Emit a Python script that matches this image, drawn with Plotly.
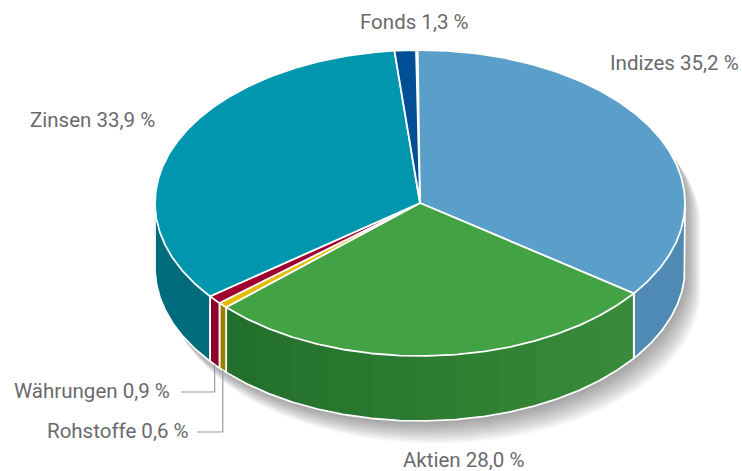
import numpy as np
import plotly.graph_objects as go

# Data, clockwise from the top of the pie
categories = ["Indizes", "Aktien", "Rohstoffe", "Währungen", "Zinsen", "Fonds"]
values = [35.2, 28.0, 0.6, 0.9, 33.9, 1.3]

# Styling
top_colors = ["#5A9FC9", "#43A243", "#E6BC00", "#A00030", "#0097AE", "#004F96"]
side_left = ["#4E8AB3", "#226F2B", "#9C7F00", "#8F002C", "#006C7C", "#004F96"]
side_right = ["#4E8AB3", "#3A8C3A", "#9C7F00", "#8F002C", "#006C7C", "#004F96"]
TEXT = "#6A6A6D"
LEADER = "#9A9A9A"
CX, CY, RX, RY, DEPTH = 420.0, 203.0, 265.0, 153.0, 65.0
START_ANGLE = -0.5
W, H = 742, 471


def px(t):
    return CX + RX * np.sin(np.radians(t))


def py(t, down=0.0):
    return CY - RY * np.cos(np.radians(t)) + down


def arc(a, b, step=0.5):
    n = max(2, int(abs(b - a) / step) + 1)
    return np.linspace(a, b, n)


def hex_rgb(h):
    return np.array([int(h[i:i + 2], 16) for i in (1, 3, 5)], float)


fig = go.Figure()


def poly(x, y, fill=None, line=None, width=0.0):
    fig.add_trace(go.Scatter(
        x=x, y=y, mode="lines", hoverinfo="skip", showlegend=False,
        fill="toself" if fill else "none", fillcolor=fill,
        line=dict(color=line or "rgba(0,0,0,0)", width=width),
    ))


# Soft drop shadow: stacked translucent copies of the body outline
outline_t = arc(90, 270)
back_t = arc(270, 450)
body_x = np.concatenate([px(outline_t), px(back_t)])
body_y = np.concatenate([py(outline_t, DEPTH), py(back_t)])
for k in range(15, 0, -1):
    poly(body_x + k * 1.05, body_y + k * 1.5, fill="rgba(40,40,40,0.03)")

# Slice boundaries in degrees
edges = np.concatenate([[0], np.cumsum(values)]) * 3.6 + START_ANGLE

# Side wall (only the front half of the pie, 90..270 degrees)
for i, cat in enumerate(categories):
    a, b = max(edges[i], 90), min(edges[i + 1], 270)
    if a >= b:
        continue
    same = side_left[i] == side_right[i]
    n = 1 if same else max(1, int((b - a) / 9))
    cuts = np.linspace(a, b, n + 1)
    for j in range(n):
        ts = arc(cuts[j], cuts[j + 1])
        lo, hi = px(b), px(a)
        f = (px(ts).mean() - min(lo, hi)) / max(1e-6, abs(hi - lo))
        c = hex_rgb(side_left[i]) + (hex_rgb(side_right[i]) - hex_rgb(side_left[i])) * f
        col = "rgb(%d,%d,%d)" % tuple(c)
        poly(np.concatenate([px(ts), px(ts[::-1])]),
             np.concatenate([py(ts), py(ts[::-1], DEPTH)]),
             fill=col, line=col, width=1.0)
    # white rim and wall boundaries
    ts = arc(a, b)
    poly(np.concatenate([[px(a)], px(ts), [px(b)]]),
         np.concatenate([[py(a)], py(ts, DEPTH), [py(b)]]),
         line="#FFFFFF", width=1.8)

# Top faces
for i, cat in enumerate(categories):
    ts = arc(edges[i], edges[i + 1])
    poly(np.concatenate([[CX], px(ts), [CX]]),
         np.concatenate([[CY], py(ts), [CY]]),
         fill=top_colors[i], line="#FFFFFF", width=1.8)

# Leader lines for the two thin slices, anchored on the slice midpoints
for name, elbow_y, end_x in [("Währungen", 392, 181), ("Rohstoffe", 432, 197)]:
    i = categories.index(name)
    m = (edges[i] + edges[i + 1]) / 2
    poly([px(m), px(m), end_x], [py(m, DEPTH), elbow_y, elbow_y],
         line=LEADER, width=1.2)

# Labels: (left x, centre y)
label_pos = {
    "Indizes": (608, 63),
    "Aktien": (401, 460),
    "Rohstoffe": (45, 431),
    "Währungen": (12, 391),
    "Zinsen": (28, 120),
    "Fonds": (358, 22),
}
annotations = []
for cat, v in zip(categories, values):
    x, y = label_pos[cat]
    annotations.append(dict(
        x=x, y=y, xref="x", yref="y", xanchor="left", yanchor="middle",
        text=f"{cat} {v:.1f} %".replace(".", ","), showarrow=False,
        font=dict(family="Roboto", size=20.5, color=TEXT),
    ))

fig.update_layout(
    width=W, height=H, margin=dict(l=0, r=0, t=0, b=0),
    paper_bgcolor="#FFFFFF", plot_bgcolor="#FFFFFF",
    xaxis=dict(range=[0, W], visible=False, fixedrange=True),
    yaxis=dict(range=[H, 0], visible=False, fixedrange=True),
    annotations=annotations, showlegend=False,
)
fig.write_html("out.html", config=dict(displayModeBar=False),
               post_script="document.body.style.margin='0';")
